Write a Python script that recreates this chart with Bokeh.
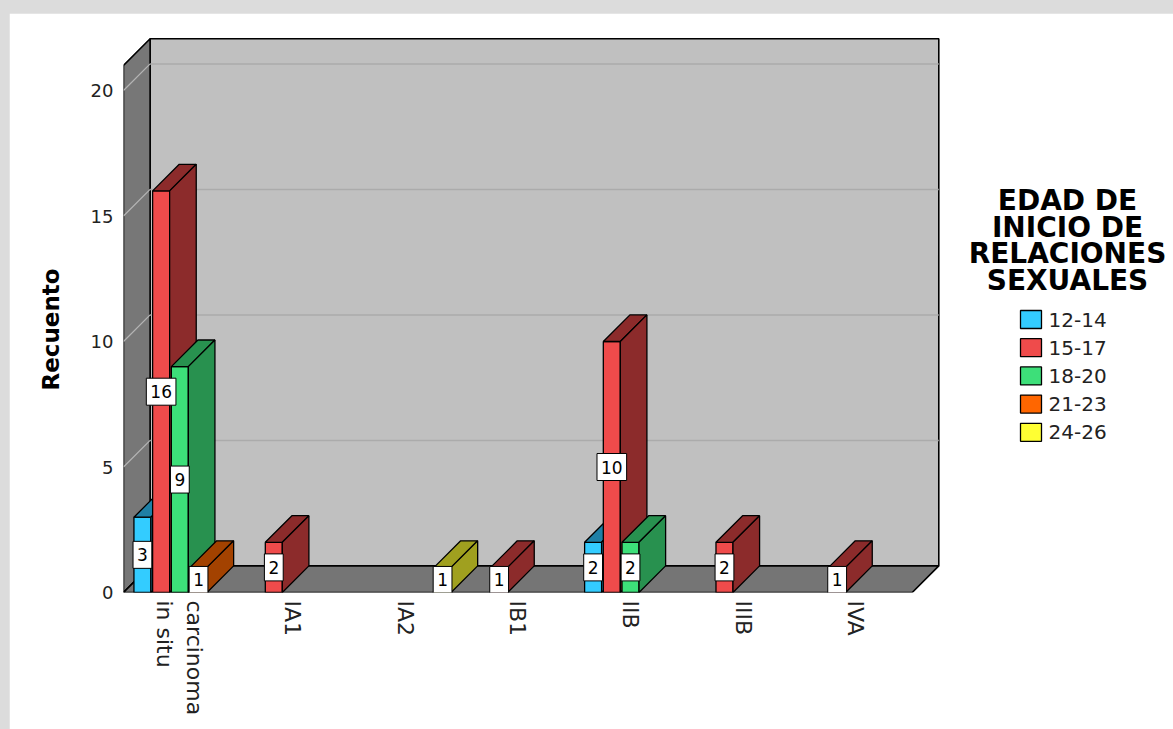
import math

from bokeh.core.properties import value
from bokeh.embed import file_html
from bokeh.layouts import column
from bokeh.models import FixedTicker, Range1d, Title
from bokeh.plotting import figure
from bokeh.resources import INLINE

# ---- data -------------------------------------------------------------
categories = ["carcinoma\nin situ", "IA1", "IA2", "IB1", "IIB", "IIIB", "IVA"]
age_groups = ["12-14", "15-17", "18-20", "21-23", "24-26"]

counts_12_14 = [3, 0, 0, 0, 2, 0, 0]
counts_15_17 = [16, 2, 0, 1, 10, 2, 1]
counts_18_20 = [9, 0, 0, 0, 2, 0, 0]
counts_21_23 = [1, 0, 0, 0, 0, 0, 0]
counts_24_26 = [0, 0, 1, 0, 0, 0, 0]

y_ticks = [0, 5, 10, 15, 20]
y_max = 21
y_title = "Recuento"
legend_title = ["EDAD DE", "INICIO DE", "RELACIONES", "SEXUALES"]

series = [counts_12_14, counts_15_17, counts_18_20, counts_21_23, counts_24_26]

# ---- styles -----------------------------------------------------------
front_colors = ["#33ccff", "#ef4b4b", "#3ddf79", "#ff6600", "#ffff33"]
shade_colors = ["#1f80a6", "#8c2b2b", "#28914f", "#a34200", "#a0a01f"]
FONT = "DejaVu Sans"

# ---- page geometry (pixels) -------------------------------------------
PAGE_W, PAGE_H = 1173, 729
FIG_X0, FIG_Y0 = 9, 13            # white panel origin inside the grey frame
FRAME_LEFT, FRAME_BOTTOM = 123, 592
FRAME_RIGHT, FRAME_TOP = 1168, 20
PX_X = 112.67                      # pixels per category
PX_Y = 25.1                        # pixels per count
DEPTH = 26.6                       # 3-D depth offset in pixels


def xd(px):
    """page x pixel -> data x"""
    return (px - FRAME_LEFT) / PX_X


def yd(py):
    """page y pixel -> data y"""
    return (FRAME_BOTTOM - py) / PX_Y


dx = DEPTH / PX_X
dy = DEPTH / PX_Y
n_cat = len(categories)

p = figure(
    width=PAGE_W - FIG_X0,
    height=PAGE_H - FIG_Y0,
    x_range=Range1d(0, xd(FRAME_RIGHT)),
    y_range=Range1d(0, yd(FRAME_TOP)),
    output_backend="svg",
    toolbar_location=None,
    min_border_left=FRAME_LEFT - FIG_X0,
    min_border_right=PAGE_W - FRAME_RIGHT,
    min_border_top=FRAME_TOP - FIG_Y0,
    min_border_bottom=PAGE_H - FRAME_BOTTOM,
)
p.margin = (FIG_Y0, 0, 0, FIG_X0)
p.outline_line_color = "white"
p.outline_line_width = 2
p.background_fill_color = "white"
p.border_fill_color = "white"
p.xgrid.visible = False
p.ygrid.visible = False

# ---- walls and floor --------------------------------------------------
p.quad(left=dx, right=n_cat + dx, bottom=dy, top=y_max + dy,
       fill_color="#c0c0c0", line_color="black", line_width=1.6)
p.patch([0, 0, dx, dx], [0, y_max, y_max + dy, dy],
        fill_color="#777777", line_color="black", line_width=1.6)
p.patch([0, n_cat, n_cat + dx, dx], [0, 0, dy, dy],
        fill_color="#757575", line_color="black", line_width=1.6)

grid_vals = [t for t in y_ticks if t > 0]
p.segment(x0=[dx] * len(grid_vals), x1=[n_cat + dx] * len(grid_vals),
          y0=[t + dy for t in grid_vals], y1=[t + dy for t in grid_vals],
          line_color="#ababab", line_width=1.5)
p.segment(x0=[0] * len(grid_vals), x1=[dx] * len(grid_vals),
          y0=grid_vals, y1=[t + dy for t in grid_vals],
          line_color="#b5b5b5", line_width=1.2)

# ---- 3-D bars ---------------------------------------------------------
pitch = 18.7 / PX_X
bar_w = 17.0 / PX_X
xs, ys, fills = [], [], []
lab_x, lab_y, lab_t = [], [], []
for i in range(n_cat):
    for j, s in enumerate(series):
        v = s[i]
        if v <= 0:
            continue
        c = i + 0.5 + (j - 2) * pitch
        l, r = c - bar_w / 2, c + bar_w / 2
        # front face
        xs.append([l, r, r, l]); ys.append([0, 0, v, v]); fills.append(front_colors[j])
        # top face
        xs.append([l, r, r + dx, l + dx]); ys.append([v, v, v + dy, v + dy]); fills.append(shade_colors[j])
        # side face
        xs.append([r, r + dx, r + dx, r]); ys.append([0, dy, v + dy, v]); fills.append(shade_colors[j])
        lab_x.append(c); lab_y.append(v / 2); lab_t.append(str(v))

p.patches(xs, ys, fill_color=fills, line_color="black", line_width=1.3)

p.text(x=lab_x, y=lab_y, text=lab_t, text_align="center", text_baseline="middle",
       text_font=value(FONT), text_font_size="17px", text_color="black",
       background_fill_color="white", border_line_color="black",
       border_line_width=1, padding=(4, 7))

# ---- axes -------------------------------------------------------------
p.yaxis.ticker = FixedTicker(ticks=y_ticks)
p.yaxis.axis_line_color = None
p.yaxis.major_tick_line_color = None
p.yaxis.minor_tick_line_color = None
p.yaxis.major_tick_out = 0
p.yaxis.major_label_standoff = 10
p.yaxis.major_label_text_font = FONT
p.yaxis.major_label_text_font_size = "18px"
p.yaxis.major_label_text_color = "#222222"

tick_pos = [i + 0.5 for i in range(n_cat)]
p.xaxis.ticker = FixedTicker(ticks=tick_pos)
p.xaxis.major_label_overrides = {t: c for t, c in zip(tick_pos, categories)}
p.xaxis.major_label_orientation = -math.pi / 2
p.xaxis.axis_line_color = None
p.xaxis.major_tick_line_color = None
p.xaxis.minor_tick_line_color = None
p.xaxis.major_tick_out = 0
p.xaxis.major_label_standoff = 8
p.xaxis.major_label_text_font = FONT
p.xaxis.major_label_text_font_size = "22px"
p.xaxis.major_label_text_color = "#222222"

# y title sits beside the front axis, centred on the 0..21 span
p.add_layout(Title(text=y_title, align="left", offset=FRAME_BOTTOM - 390,
                   standoff=48, text_font=FONT, text_font_style="bold",
                   text_font_size="23px", text_color="black"), "left")

# ---- legend -----------------------------------------------------------
title_y = [200, 226.5, 253, 279.5]
p.text(x=[xd(1067)] * len(legend_title), y=[yd(t) for t in title_y],
       text=legend_title, text_align="center", text_baseline="middle",
       text_font=value(FONT), text_font_style="bold", text_font_size="28px",
       text_color="black")

item_y = [yd(319 + 28.2 * k) for k in range(len(age_groups))]
p.rect(x=[xd(1030.5)] * len(age_groups), y=item_y, width=21, height=18,
       width_units="screen", height_units="screen",
       fill_color=front_colors, line_color="black", line_width=1.3)
p.text(x=[xd(1048)] * len(age_groups), y=item_y, text=age_groups,
       text_align="left", text_baseline="middle",
       text_font=value(FONT), text_font_size="20px", text_color="#222222")

layout = column(p, width=PAGE_W, height=PAGE_H,
                styles={"background-color": "#dcdcdc"})

with open("out.html", "w") as f:
    f.write(file_html(layout, INLINE))
